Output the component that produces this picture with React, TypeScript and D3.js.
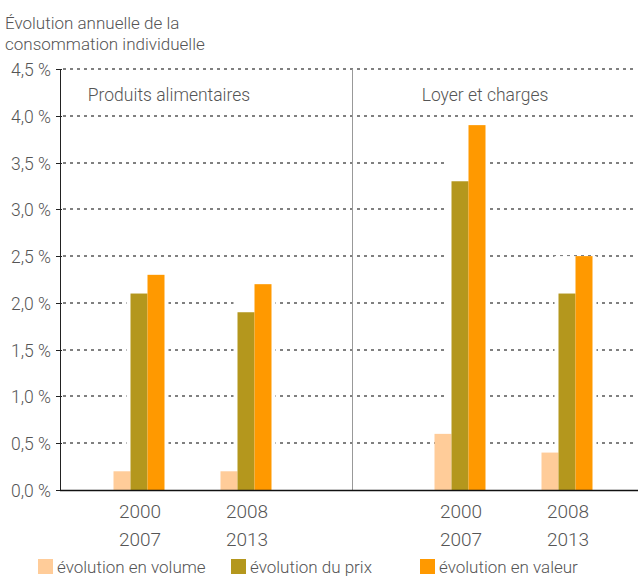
import React from "react";
import * as d3 from "d3";

const groups = ["P1", "P2", "sep", "L1", "L2"];
const groupLabels: Record<string, [string, string]> = {
  P1: ["2000", "2007"],
  P2: ["2008", "2013"],
  L1: ["2000", "2007"],
  L2: ["2008", "2013"],
};
const series = ["volume", "prix", "valeur"];
const seriesLabels = ["évolution en volume", "évolution du prix", "évolution en valeur"];
const seriesColors = ["#FFCC99", "#B4971D", "#FF9900"];
const volume = [0.2, 0.2, 0.6, 0.4];
const prix = [2.1, 1.9, 3.3, 2.1];
const valeur = [2.3, 2.2, 3.9, 2.5];
const barGroups = ["P1", "P2", "L1", "L2"];
const yTicks = [0, 0.5, 1, 1.5, 2, 2.5, 3, 3.5, 4, 4.5];
const panelTitles = ["Produits alimentaires", "Loyer et charges"];

const W = 638;
const H = 577;
const FONT = "Roboto, 'Noto Sans', sans-serif";
const TXT = "#555";

export default function App() {
  const y = d3.scaleLinear().domain([0, 4.5]).range([490, 69]);
  const x = d3.scaleBand().domain(groups).range([85.5, 620.5]).paddingInner(0).paddingOuter(0);
  const bw = x.bandwidth();
  const cx = (g: string) => (x(g) as number) + bw / 2;
  const xs = d3.scaleBand().domain(series).range([-25.5, 25.5]);
  const barW = xs.bandwidth();
  const vals = [volume, prix, valeur];
  const fmt = (v: number) => d3.format(".1f")(v).replace(".", ",") + " %";
  const divX = Math.round(cx("sep")) - 0.5;
  const left = 60;

  return (
    <svg width={W} height={H} style={{ display: "block", position: "absolute", left: 0, top: 0 }} fontFamily={FONT}>
      <rect width={W} height={H} fill="#fff" />
      <text x={5} y={29} fontSize={17} fill={TXT} fontWeight={300}>Évolution annuelle de la</text>
      <text x={5} y={50} fontSize={17} fill={TXT} fontWeight={300}>consommation individuelle</text>

      {yTicks.filter((t) => t > 0).map((t) => (
        <line key={"g" + t} x1={63} x2={636} y1={Math.round(y(t))} y2={Math.round(y(t))}
          stroke="#808080" strokeWidth={2} strokeDasharray="3,4" />
      ))}

      <line x1={divX} x2={divX} y1={69} y2={490} stroke="#999" strokeWidth={1} />

      {barGroups.map((g, i) => {
        const m = Math.max(volume[i], prix[i], valeur[i]);
        const c = cx(g) + (xs("valeur") as number);
        return <rect key={"m" + g} x={c - 21} width={42} y={y(m)} height={y(0) - y(m)} fill="#fff" />;
      })}

      {barGroups.map((g, i) =>
        series.map((s, j) => {
          const v = vals[j][i];
          return (
            <rect key={g + s} x={cx(g) + (xs(s) as number)} width={barW} y={y(v)} height={y(0) - y(v)} fill={seriesColors[j]} />
          );
        })
      )}

      <line x1={left + 0.5} x2={left + 0.5} y1={69} y2={490} stroke="#222" strokeWidth={1} />
      {yTicks.map((t) => (
        <g key={"t" + t}>
          <line x1={56} x2={62} y1={Math.round(y(t)) + 0.5} y2={Math.round(y(t)) + 0.5} stroke="#222" strokeWidth={1} />
          <text x={51} y={y(t) + 7} textAnchor="end" fontSize={17.5} fill={TXT} fontWeight={300}>{fmt(t)}</text>
        </g>
      ))}
      <line x1={left} x2={638} y1={490.5} y2={490.5} stroke="#111" strokeWidth={1.5} />

      <text x={169} y={101} textAnchor="middle" fontSize={17.5} fill={TXT} fontWeight={300}>{panelTitles[0]}</text>
      <text x={485} y={101} textAnchor="middle" fontSize={17.5} fill={TXT} fontWeight={300}>{panelTitles[1]}</text>

      {barGroups.map((g) => (
        <g key={"l" + g}>
          <text x={cx(g) + 1} y={518} textAnchor="middle" fontSize={19} fill={TXT} fontWeight={300}>{groupLabels[g][0]}</text>
          <text x={cx(g) + 1} y={546} textAnchor="middle" fontSize={19} fill={TXT} fontWeight={300}>{groupLabels[g][1]}</text>
        </g>
      ))}

      {[38, 231, 420].map((lx, j) => (
        <g key={"lg" + j}>
          <rect x={lx} y={559} width={15} height={15} fill={seriesColors[j]} />
          <text x={lx + 19} y={573} fontSize={17} fill={TXT} fontWeight={300}>{seriesLabels[j]}</text>
        </g>
      ))}
    </svg>
  );
}
